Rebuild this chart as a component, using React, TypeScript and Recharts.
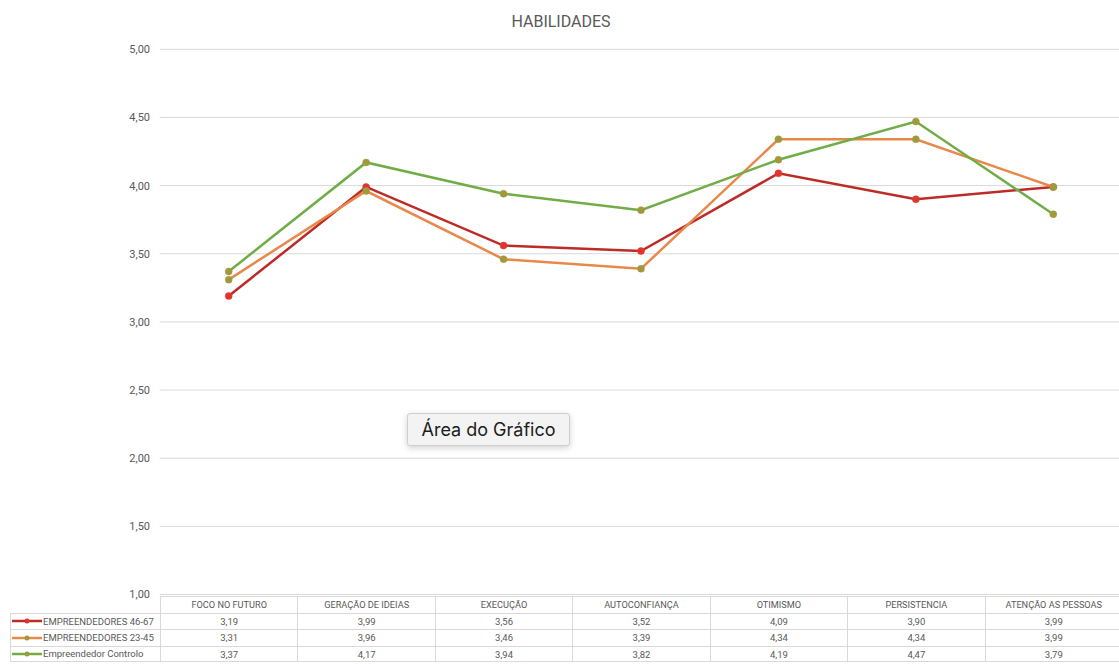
import React from "react";
import { LineChart, Line, XAxis, YAxis, CartesianGrid } from "recharts";

const categories = [
  "FOCO NO FUTURO",
  "GERAÇÃO DE IDEIAS",
  "EXECUÇÃO",
  "AUTOCONFIANÇA",
  "OTIMISMO",
  "PERSISTENCIA",
  "ATENÇÃO AS PESSOAS",
];
const seriesNames = ["EMPREENDEDORES 46-67", "EMPREENDEDORES 23-45", "Empreendedor Controlo"];
const s4667 = [3.19, 3.99, 3.56, 3.52, 4.09, 3.9, 3.99];
const s2345 = [3.31, 3.96, 3.46, 3.39, 4.34, 4.34, 3.99];
const sControlo = [3.37, 4.17, 3.94, 3.82, 4.19, 4.47, 3.79];
const yTicks = [1, 1.5, 2, 2.5, 3, 3.5, 4, 4.5, 5];
const title = "HABILIDADES";
const overlayLabel = "Área do Gráfico";

const seriesValues = [s4667, s2345, sControlo];
const lineColors = ["#BE2B27", "#E8884A", "#70AD47"];
const dotColors = ["#E0352F", "#A09A3C", "#A09A3C"];
const keys = ["a", "b", "c"];

const data = categories.map((c, i) => ({
  name: c,
  a: s4667[i],
  b: s2345[i],
  c: sControlo[i],
}));

const fmt = (v: number) => v.toFixed(2).replace(".", ",");

const W = 1122;
const H = 666;
const PLOT_LEFT = 160;
const PLOT_TOP = 49.3;
const PLOT_BOTTOM = 594.5;
const COL_W = (W - PLOT_LEFT) / categories.length;
const ROW_TOP = 596;
const ROW_H = 16.5;
const GRAY = "#595959";
const BORDER = "#d9d9d9";
const FONT = "Roboto, 'Liberation Sans', Arial, sans-serif";

export default function App() {
  return (
    <div
      style={{
        position: "absolute",
        left: 0,
        top: 0,
        width: 1119,
        height: 666,
        overflow: "hidden",
        background: "#fff",
        fontFamily: FONT,
      }}
    >
      <div
        style={{
          position: "absolute",
          left: 0,
          top: 11,
          width: 1122,
          textAlign: "center",
          fontSize: 16,
          color: GRAY,
          lineHeight: "22px",
        }}
      >
        {title}
      </div>
      <div style={{ position: "absolute", left: 0, top: 0 }}>
        <LineChart
          width={W}
          height={H}
          data={data}
          margin={{ top: PLOT_TOP, right: 0, left: 0, bottom: H - PLOT_BOTTOM }}
        >
          <CartesianGrid horizontal vertical={false} stroke={BORDER} strokeWidth={1} />
          <XAxis
            dataKey="name"
            hide
            padding={{ left: COL_W / 2, right: COL_W / 2 }}
          />
          <YAxis
            width={PLOT_LEFT}
            domain={[1, 5]}
            ticks={yTicks}
            tickFormatter={fmt}
            axisLine={false}
            tickLine={false}
            tickMargin={4}
            tick={{ fill: GRAY, fontSize: 11, fontFamily: FONT }}
            interval={0}
          />
          {keys.map((k, i) => (
            <Line
              key={k}
              type="linear"
              dataKey={k}
              name={seriesNames[i]}
              stroke={lineColors[i]}
              strokeWidth={2.5}
              dot={{ r: 3.5, fill: dotColors[i], stroke: dotColors[i], strokeWidth: 0.5 }}
              activeDot={false}
              isAnimationActive={false}
            />
          ))}
        </LineChart>
      </div>

      {/* data table */}
      <div style={{ position: "absolute", left: 0, top: 0, width: W, height: H }}>
        {categories.map((c, i) => (
          <div
            key={"h" + i}
            style={{
              position: "absolute",
              left: PLOT_LEFT + i * COL_W,
              top: ROW_TOP,
              width: COL_W,
              height: ROW_H,
              borderLeft: `1px solid ${BORDER}`,
              borderTop: `1px solid ${BORDER}`,
              boxSizing: "border-box",
              textAlign: "center",
              fontSize: 9.2,
              lineHeight: `${ROW_H}px`,
              color: GRAY,
              whiteSpace: "nowrap",
            }}
          >
            {c}
          </div>
        ))}
        {seriesValues.map((vals, r) => (
          <React.Fragment key={"r" + r}>
            <div
              style={{
                position: "absolute",
                left: 10,
                top: ROW_TOP + (r + 1) * ROW_H,
                width: PLOT_LEFT - 10,
                height: ROW_H,
                borderLeft: `1px solid ${BORDER}`,
                borderTop: `1px solid ${BORDER}`,
                borderBottom: r === 2 ? `1px solid ${BORDER}` : undefined,
                boxSizing: "border-box",
                fontSize: 9.5,
                lineHeight: `${ROW_H - 1}px`,
                color: GRAY,
                whiteSpace: "nowrap",
                display: "flex",
                alignItems: "center",
              }}
            >
              <svg width={32} height={10} style={{ flex: "none" }}>
                <line x1={1} y1={5} x2={31} y2={5} stroke={lineColors[r]} strokeWidth={2.5} />
                <circle cx={16} cy={5} r={2.5} fill={dotColors[r]} />
              </svg>
              <span>{seriesNames[r]}</span>
            </div>
            {vals.map((v, i) => (
              <div
                key={"c" + r + "-" + i}
                style={{
                  position: "absolute",
                  left: PLOT_LEFT + i * COL_W,
                  top: ROW_TOP + (r + 1) * ROW_H,
                  width: COL_W,
                  height: ROW_H,
                  borderLeft: `1px solid ${BORDER}`,
                  borderTop: `1px solid ${BORDER}`,
                  borderBottom: r === 2 ? `1px solid ${BORDER}` : undefined,
                  boxSizing: "border-box",
                  textAlign: "center",
                  fontSize: 9.5,
                  lineHeight: `${ROW_H - 1}px`,
                  color: GRAY,
                }}
              >
                {fmt(v)}
              </div>
            ))}
          </React.Fragment>
        ))}
      </div>

      {/* overlay label */}
      <div
        style={{
          position: "absolute",
          left: 407,
          top: 413,
          width: 163,
          height: 33,
          boxSizing: "border-box",
          background: "#f3f3f3",
          border: "1px solid #cfcfcf",
          borderRadius: 3,
          boxShadow: "0 2px 6px rgba(0,0,0,0.18)",
          fontFamily: "Inter, 'Open Sans', sans-serif",
          fontSize: 18,
          color: "#1c1c1c",
          lineHeight: "31px",
          textAlign: "center",
        }}
      >
        {overlayLabel}
      </div>
    </div>
  );
}
